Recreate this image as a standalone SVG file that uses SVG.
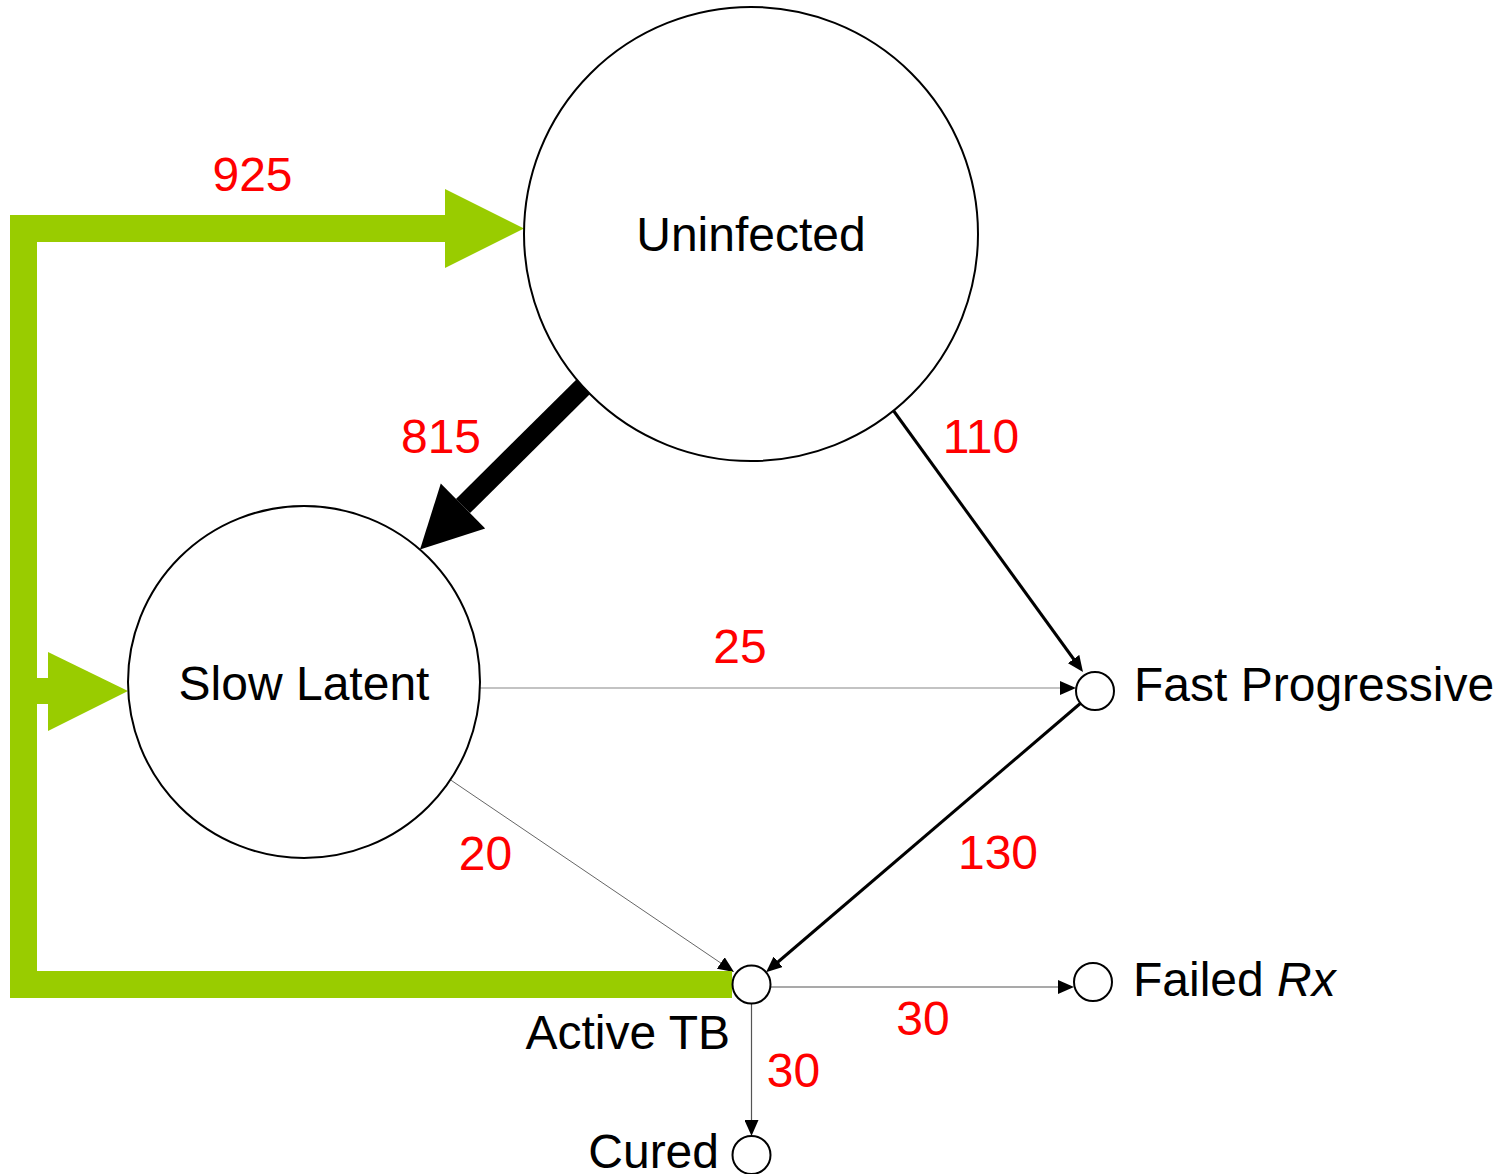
<svg xmlns="http://www.w3.org/2000/svg" width="1507" height="1174" viewBox="0 0 1507 1174">
<style>
.big{fill:#fff;stroke:#000;stroke-width:2}
.small{fill:#fff;stroke:#000;stroke-width:2}
.lbl{font-family:"Liberation Sans",Arial,sans-serif;font-size:48px;fill:#000}
.num{font-family:"Liberation Sans",Arial,sans-serif;font-size:48px;fill:#ff0000;text-anchor:middle}
.green{fill:#99cc00}
</style>
<defs>
<marker id="ah" markerUnits="userSpaceOnUse" markerWidth="16" markerHeight="14" refX="8" refY="7" orient="auto" viewBox="0 0 16 14">
<path d="M0,0 L16,7 L0,14 z" fill="#000"/>
</marker>
</defs>
<rect x="0" y="0" width="1507" height="1174" fill="#fff"/>
<g id="connectors">
<g id="green-flow">
<rect class="green" x="10" y="215" width="27" height="783"/>
<rect class="green" x="10" y="215" width="436" height="27"/>
<polygon class="green" points="445,189 524,228.5 445,268"/>
<rect class="green" x="36" y="678" width="13" height="26"/>
<polygon class="green" points="48,652 128,691 48,731"/>
</g>
<g id="edge-815">
<line x1="586" y1="384" x2="463" y2="506" stroke="#000" stroke-width="20"/>
<polygon points="440.8,483.6 485.2,528.4 420,549.5" fill="#000"/>
</g>
<line id="edge-110" x1="893" y1="410" x2="1078.3" y2="665.5" stroke="#000" stroke-width="3" marker-end="url(#ah)"/>
<line id="edge-130" x1="1082" y1="702" x2="772.1" y2="967" stroke="#000" stroke-width="3" marker-end="url(#ah)"/>
<line id="edge-25" x1="480" y1="688" x2="1068" y2="688" stroke="#888" stroke-width="1.2" marker-end="url(#ah)"/>
<line id="edge-20" x1="450.7" y1="780" x2="727.4" y2="967.5" stroke="#666" stroke-width="1" marker-end="url(#ah)"/>
<line id="edge-30r" x1="771" y1="987" x2="1066" y2="987" stroke="#555" stroke-width="1.2" marker-end="url(#ah)"/>
<line id="edge-30d" x1="751.5" y1="1004" x2="751.5" y2="1128" stroke="#555" stroke-width="1.2" marker-end="url(#ah)"/>
<rect id="green-bottom" class="green" x="10" y="971" width="722" height="27"/>
</g>
<g id="node-uninfected">
<circle class="big" cx="751" cy="234" r="227"/>
<text class="lbl" x="751" y="251" text-anchor="middle">Uninfected</text>
</g>
<g id="node-slow-latent">
<circle class="big" cx="304" cy="682" r="176"/>
<text class="lbl" x="304" y="700" text-anchor="middle">Slow Latent</text>
</g>
<g id="node-fast-progressive">
<circle class="small" cx="1095" cy="691" r="19"/>
<text class="lbl" x="1134" y="701">Fast Progressive</text>
</g>
<g id="node-active-tb">
<circle class="small" cx="751.5" cy="984.5" r="19"/>
<text class="lbl" x="730" y="1049" text-anchor="end">Active TB</text>
</g>
<g id="node-failed-rx">
<circle class="small" cx="1093" cy="982" r="19"/>
<text class="lbl" x="1133" y="996">Failed <tspan font-style="italic">Rx</tspan></text>
</g>
<g id="node-cured">
<circle class="small" cx="751.5" cy="1155" r="19"/>
<text class="lbl" x="719" y="1168" text-anchor="end">Cured</text>
</g>
<g id="labels">
<text class="num" x="252.5" y="191">925</text>
<text class="num" x="441" y="453">815</text>
<text class="num" x="981" y="453">110</text>
<text class="num" x="740" y="663">25</text>
<text class="num" x="485.5" y="870">20</text>
<text class="num" x="998" y="869">130</text>
<text class="num" x="923" y="1035">30</text>
<text class="num" x="793.5" y="1087">30</text>
</g>
</svg>
